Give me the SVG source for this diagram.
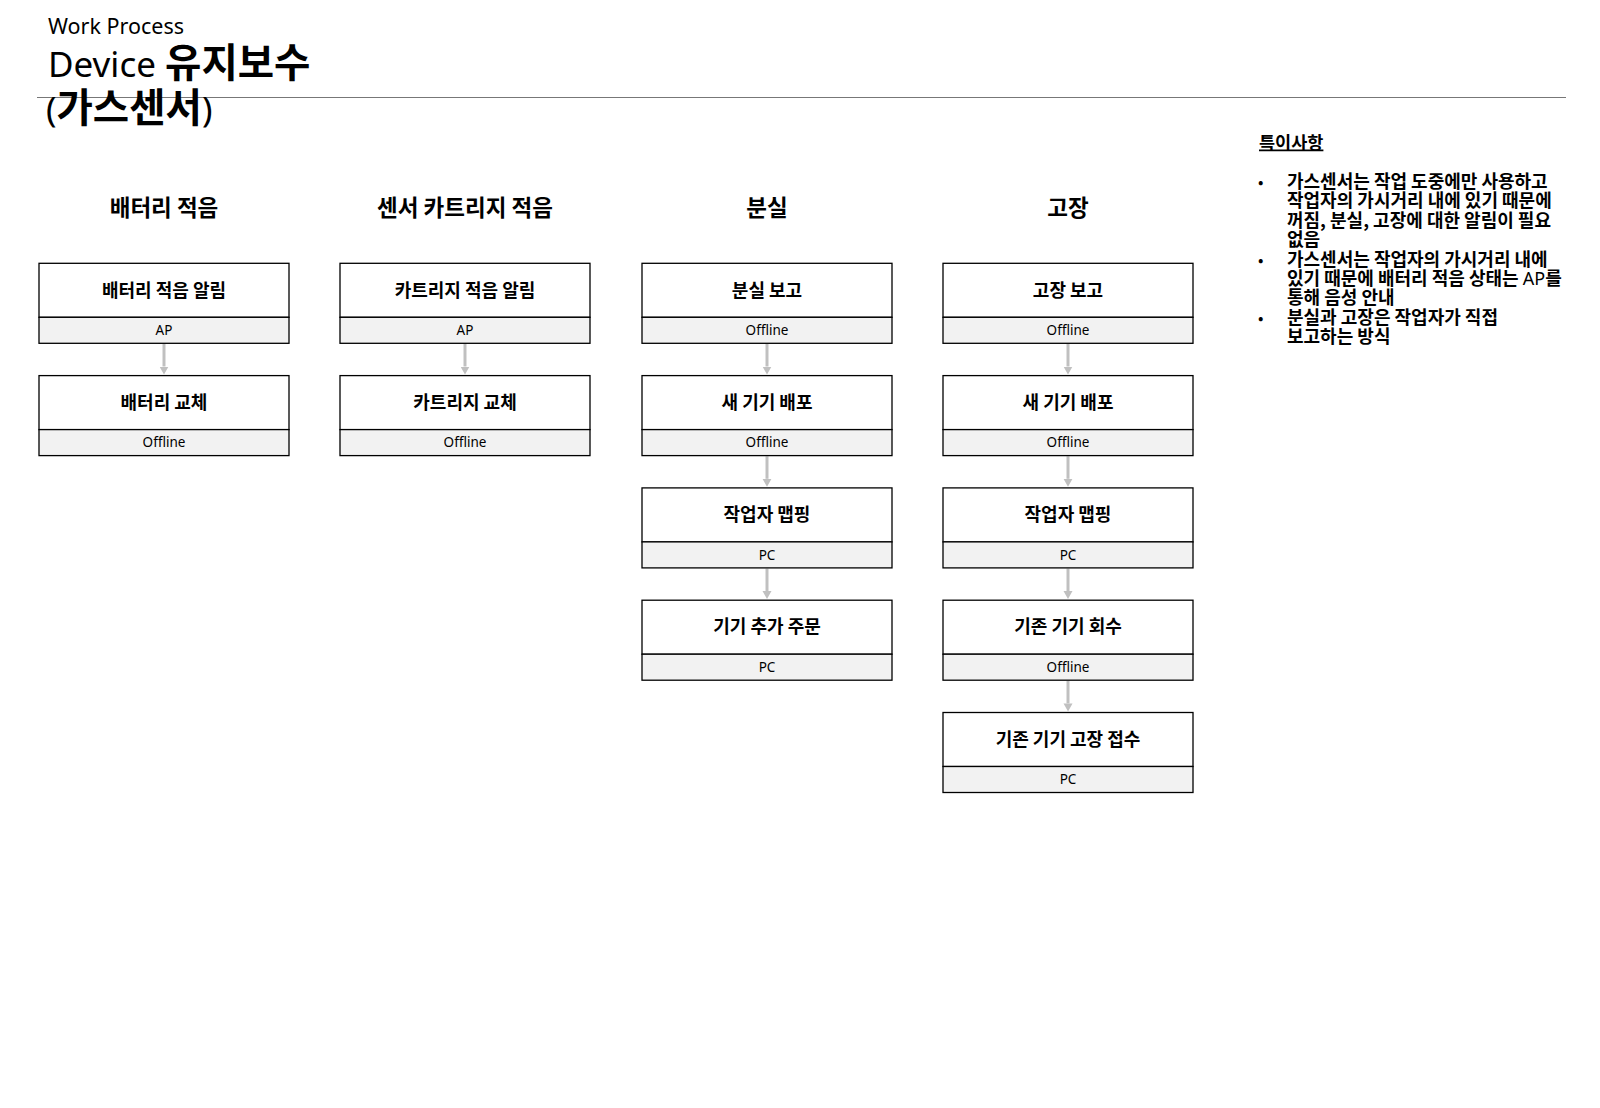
<svg xmlns="http://www.w3.org/2000/svg" width="1600" height="1108" viewBox="0 0 1600 1108">
<style>
  text { font-family: "Noto Sans", "Noto Sans CJK KR", sans-serif; fill: #000; }
  .hdr { font-size: 22.5px; font-weight: bold; text-anchor: middle; font-family: "Noto Sans CJK KR", sans-serif; }
  .box { fill: #fff; stroke: #000; stroke-width: 1.3; }
  .strip { fill: #f2f2f2; stroke: #000; stroke-width: 1.3; }
  .t { font-size: 18px; font-weight: bold; text-anchor: middle; font-family: "Noto Sans CJK KR", sans-serif; }
  .l { font-size: 13.5px; text-anchor: middle; }
  .arr { stroke: #c0c0c0; stroke-width: 3; fill: none; marker-end: url(#ah); }
  .note { font-size: 18px; font-weight: bold; font-family: "Noto Sans CJK KR", sans-serif; }
  .bul { font-size: 16px; font-family: "Noto Sans CJK KR", sans-serif; }
</style>
<defs>
  <marker id="ah" markerUnits="userSpaceOnUse" markerWidth="12" markerHeight="12" refX="0" refY="5" orient="auto">
    <path d="M0,0.5 L8,5 L0,9.5 Z" fill="#c0c0c0"/>
  </marker>
</defs>
<rect width="1600" height="1108" fill="#fff"/>

<g id="title">
  <text x="48" y="34" font-size="21.5">Work Process</text>
  <text x="48" y="77" font-size="35">Device <tspan font-weight="bold" font-size="39.5" font-family="Noto Sans CJK KR, sans-serif">유지보수</tspan></text>
  <line x1="37" y1="97.5" x2="1566" y2="97.5" stroke="#777" stroke-width="1.2"/>
  <text x="46" y="121.5" font-size="35">(<tspan font-weight="bold" font-size="39.5" font-family="Noto Sans CJK KR, sans-serif">가스센서</tspan>)</text>
</g>

<g id="headers">
  <text class="hdr" x="164" y="216">배터리 적음</text>
  <text class="hdr" x="465" y="216">센서 카트리지 적음</text>
  <text class="hdr" x="767" y="216">분실</text>
  <text class="hdr" x="1068" y="216">고장</text>
</g>

<g id="connectors">
  <line class="arr" x1="164" y1="344" x2="164" y2="366.5"/>
  <line class="arr" x1="465" y1="344" x2="465" y2="366.5"/>
  <line class="arr" x1="767" y1="344" x2="767" y2="366.5"/>
  <line class="arr" x1="767" y1="456.3" x2="767" y2="478.8"/>
  <line class="arr" x1="767" y1="568.6" x2="767" y2="591.1"/>
  <line class="arr" x1="1068" y1="344" x2="1068" y2="366.5"/>
  <line class="arr" x1="1068" y1="456.3" x2="1068" y2="478.8"/>
  <line class="arr" x1="1068" y1="568.6" x2="1068" y2="591.1"/>
  <line class="arr" x1="1068" y1="680.9" x2="1068" y2="703.4"/>
</g>

<g id="n1">
  <rect class="box" x="39" y="263.3" width="250" height="54"/>
  <rect class="strip" x="39" y="317.3" width="250" height="26"/>
  <text class="t" x="164" y="296.5">배터리 적음 알림</text>
  <text class="l" x="164" y="335">AP</text>
</g>
<g id="n2">
  <rect class="box" x="39" y="375.6" width="250" height="54"/>
  <rect class="strip" x="39" y="429.6" width="250" height="26"/>
  <text class="t" x="164" y="408.8">배터리 교체</text>
  <text class="l" x="164" y="447.3">Offline</text>
</g>

<g id="n3">
  <rect class="box" x="340" y="263.3" width="250" height="54"/>
  <rect class="strip" x="340" y="317.3" width="250" height="26"/>
  <text class="t" x="465" y="296.5">카트리지 적음 알림</text>
  <text class="l" x="465" y="335">AP</text>
</g>
<g id="n4">
  <rect class="box" x="340" y="375.6" width="250" height="54"/>
  <rect class="strip" x="340" y="429.6" width="250" height="26"/>
  <text class="t" x="465" y="408.8">카트리지 교체</text>
  <text class="l" x="465" y="447.3">Offline</text>
</g>

<g id="n5">
  <rect class="box" x="642" y="263.3" width="250" height="54"/>
  <rect class="strip" x="642" y="317.3" width="250" height="26"/>
  <text class="t" x="767" y="296.5">분실 보고</text>
  <text class="l" x="767" y="335">Offline</text>
</g>
<g id="n6">
  <rect class="box" x="642" y="375.6" width="250" height="54"/>
  <rect class="strip" x="642" y="429.6" width="250" height="26"/>
  <text class="t" x="767" y="408.8">새 기기 배포</text>
  <text class="l" x="767" y="447.3">Offline</text>
</g>
<g id="n7">
  <rect class="box" x="642" y="487.9" width="250" height="54"/>
  <rect class="strip" x="642" y="541.9" width="250" height="26"/>
  <text class="t" x="767" y="521.1">작업자 맵핑</text>
  <text class="l" x="767" y="559.6">PC</text>
</g>
<g id="n8">
  <rect class="box" x="642" y="600.2" width="250" height="54"/>
  <rect class="strip" x="642" y="654.2" width="250" height="26"/>
  <text class="t" x="767" y="633.4">기기 추가 주문</text>
  <text class="l" x="767" y="671.9">PC</text>
</g>

<g id="n9">
  <rect class="box" x="943" y="263.3" width="250" height="54"/>
  <rect class="strip" x="943" y="317.3" width="250" height="26"/>
  <text class="t" x="1068" y="296.5">고장 보고</text>
  <text class="l" x="1068" y="335">Offline</text>
</g>
<g id="n10">
  <rect class="box" x="943" y="375.6" width="250" height="54"/>
  <rect class="strip" x="943" y="429.6" width="250" height="26"/>
  <text class="t" x="1068" y="408.8">새 기기 배포</text>
  <text class="l" x="1068" y="447.3">Offline</text>
</g>
<g id="n11">
  <rect class="box" x="943" y="487.9" width="250" height="54"/>
  <rect class="strip" x="943" y="541.9" width="250" height="26"/>
  <text class="t" x="1068" y="521.1">작업자 맵핑</text>
  <text class="l" x="1068" y="559.6">PC</text>
</g>
<g id="n12">
  <rect class="box" x="943" y="600.2" width="250" height="54"/>
  <rect class="strip" x="943" y="654.2" width="250" height="26"/>
  <text class="t" x="1068" y="633.4">기존 기기 회수</text>
  <text class="l" x="1068" y="671.9">Offline</text>
</g>
<g id="n13">
  <rect class="box" x="943" y="712.5" width="250" height="54"/>
  <rect class="strip" x="943" y="766.5" width="250" height="26"/>
  <text class="t" x="1068" y="745.7">기존 기기 고장 접수</text>
  <text class="l" x="1068" y="784.2">PC</text>
</g>

<g id="notes">
  <text x="1259" y="148.5" font-size="17.5" font-weight="bold" text-decoration="underline" font-family="Noto Sans CJK KR, sans-serif">특이사항</text>
  <text class="bul" x="1258" y="188">•</text>
  <text class="bul" x="1258" y="265.6">•</text>
  <text class="bul" x="1258" y="323.8">•</text>
  <text class="note" x="1287" y="188">가스센서는 작업 도중에만 사용하고</text>
  <text class="note" x="1287" y="207.4">작업자의 가시거리 내에 있기 때문에</text>
  <text class="note" x="1287" y="226.8">꺼짐, 분실, 고장에 대한 알림이 필요</text>
  <text class="note" x="1287" y="246.2">없음</text>
  <text class="note" x="1287" y="265.6">가스센서는 작업자의 가시거리 내에</text>
  <text class="note" x="1287" y="285">있기 때문에 배터리 적음 상태는 <tspan font-weight="normal" font-family="Noto Sans, sans-serif">AP</tspan>를</text>
  <text class="note" x="1287" y="304.4">통해 음성 안내</text>
  <text class="note" x="1287" y="323.8">분실과 고장은 작업자가 직접</text>
  <text class="note" x="1287" y="343.2">보고하는 방식</text>
</g>
</svg>
